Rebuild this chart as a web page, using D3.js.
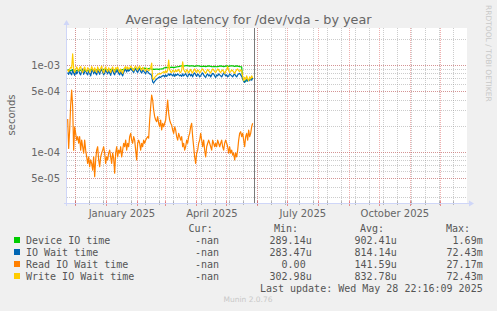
<!DOCTYPE html>
<html>
<head>
<meta charset="utf-8">
<script src="https://cdn.jsdelivr.net/npm/d3@7/dist/d3.min.js"></script>
<style>
  body { margin: 0; background: #f0f0f0; }
  svg text { font-family: "DejaVu Sans", sans-serif; }
  svg .mono { font-family: "DejaVu Sans Mono", monospace; white-space: pre; }
</style>
</head>
<body>
<svg id="chart" width="497" height="311"></svg>
<script>
// series names and colours (munin palette)
const seriesNames = ['Device IO time', 'IO Wait time', 'Read IO Wait time', 'Write IO Wait time'];
const seriesColors = ['#00cc00', '#0066b3', '#ff8000', '#ffcc00'];

// daily averages in microseconds, first day 2024-11-23
const deviceUs = [
  870, 880, 875, 860, 870, 885, 880, 870, 865, 860,
  870, 875, 880, 870, 860, 865, 875, 880, 870, 865,
  860, 870, 875, 880, 885, 875, 870, 865, 870, 880,
  885, 890, 880, 875, 870, 880, 885, 890, 895, 885,
  880, 875, 885, 890, 880, 870, 875, 880, 885, 880,
  875, 870, 865, 875, 880, 885, 890, 895, 900, 905,
  900, 895, 905, 910, 905, 900, 895, 900, 905, 910,
  915, 920, 915, 910, 905, 910, 915, 920, 915, 910,
  905, 910, 915, 905, 900,
  890, 895, 890, 895, 900, 895, 890, 895, 900, 905, 900,
  920, 930, 935, 940, 935, 930, 935, 940, 945, 940, 935, 940, 945, 950, 955, 960, 965,
  975, 980, 975, 970, 975, 980, 985, 980, 975, 970,
  975, 980, 975, 970, 965, 970, 975, 980, 975, 970,
  965, 960, 965, 970, 965, 960, 965, 970, 975, 970,
  965, 960, 955, 960, 965, 960, 955, 960, 965, 970,
  975, 970, 965, 960, 965, 970, 975, 970, 965, 970,
  975, 980, 975, 970, 965, 970, 975, 970, 965, 960,
  955, 950,
  700, 660, 645, 650, 660, 670, 680, 690, 700, 705, 710
];
const ioWaitUs = [
  820, 780, 860, 800, 770, 880, 810, 760, 870, 790,
  830, 880, 800, 770, 860, 900, 780, 830, 880, 800,
  770, 860, 810, 750, 840, 890, 790, 860, 800, 770,
  880, 830, 780, 860, 900, 820, 770, 810, 880, 830,
  790, 860, 810, 760, 840, 890, 800, 770, 860, 830,
  880, 800, 770, 840, 790, 750, 820, 870, 890, 830,
  900, 850, 870, 910, 880, 850, 820, 880, 900, 850,
  820, 880, 900, 840, 810, 870, 850, 820, 790, 860,
  840, 810, 790, 780, 760,
  640, 620, 650, 670, 690, 700, 720, 730, 720, 740, 750,
  760, 730, 770, 740, 760, 790, 760, 790, 770, 750, 790, 740, 780, 760, 790, 770, 750,
  770, 740, 790, 750, 770, 800, 750, 730, 780, 790,
  750, 780, 730, 790, 810, 770, 740, 790, 770, 730,
  750, 790, 810, 770, 740, 720, 770, 790, 750, 770,
  730, 770, 800, 790, 750, 720, 770, 750, 790, 770,
  750, 730, 770, 810, 790, 750, 770, 730, 750, 790,
  770, 750, 730, 770, 790, 750, 730, 770, 790, 800,
  770, 740,
  700, 650, 630, 660, 690, 650, 680, 660, 700, 670, 710
];
const readUs = [
  240, 110, 179, 347, 516, 332, 105, 195, 164, 137,
  150, 126, 150, 105, 137, 115, 97, 137, 105, 88,
  74, 88, 68, 81, 74, 62, 88, 52, 81, 105,
  115, 81, 68, 88, 97, 105, 115, 97, 74, 88,
  81, 97, 105, 88, 74, 97, 85, 57, 97, 115,
  88, 105, 97, 115, 88, 105, 126, 115, 137, 105,
  126, 115, 150, 164, 137, 126, 150, 137, 105, 81,
  126, 137, 126, 105, 126, 115, 137, 126, 137, 144,
  150, 144, 233, 332, 452, 396, 304, 255, 233, 223,
  255, 214, 195, 233, 179, 214, 195, 214, 233, 304,
  396, 278, 233, 214, 204, 179, 164, 195, 179, 150,
  137, 164, 150, 137, 150, 115, 126, 105, 115, 137,
  126, 150, 164, 195, 214, 150, 115, 88, 74, 97,
  105, 126, 137, 164, 137, 115, 137, 105, 88, 115,
  126, 137, 126, 115, 105, 137, 126, 115, 126, 115,
  137, 126, 115, 126, 137, 115, 105, 126, 137, 126,
  115, 97, 115, 97, 105, 92, 97, 81, 97, 88,
  105, 137, 164, 171, 150, 164, 137, 115, 150, 164,
  137, 179, 150, 164, 195, 214
];
const writeUs = [
  880, 840, 900, 940, 920, 1340, 900, 820, 880, 950,
  900, 850, 930, 960, 860, 820, 900, 950, 870, 840,
  930, 900, 820, 870, 960, 900, 840, 930, 870, 820,
  950, 890, 840, 920, 970, 860, 810, 900, 950, 870,
  840, 930, 880, 820, 900, 950, 860, 830, 930, 900,
  950, 870, 820, 900, 850, 800, 880, 930, 960, 890,
  950, 900, 920, 970, 940, 890, 860, 940, 970, 910,
  880, 940, 970, 900, 870, 940, 910, 880, 850, 920,
  890, 860, 880, 930, 1050,
  700, 680, 720, 740, 760, 780, 790, 800, 790, 810, 820,
  840, 810, 860, 820, 870, 1140, 880, 830, 820, 870, 850, 830, 880, 840, 860, 890, 830,
  820, 870, 1090, 890, 840, 820, 880, 860, 810, 850,
  890, 830, 810, 870, 900, 840, 820, 880, 860, 810,
  840, 880, 900, 860, 830, 800, 850, 890, 860, 830,
  810, 860, 900, 880, 840, 820, 860, 900, 880, 840,
  820, 860, 880, 840, 800, 850, 880, 960, 860, 820,
  840, 880, 860, 830, 800, 850, 880, 900, 860, 840,
  880, 860,
  740, 660, 720, 680, 750, 690, 660, 730, 690, 750, 710
];

// legend table
const legendCur = ['-nan', '-nan', '-nan', '-nan'];
const legendMin = ['289.14u', '283.47u', '0.00 ', '302.98u'];
const legendAvg = ['902.41u', '814.14u', '141.59u', '832.78u'];
const legendMax = ['1.69m', '72.43m', '27.17m', '72.43m'];

// axes
const yTickValues = [5e-5, 1e-4, 5e-4, 1e-3];
const yTickLabels = ['5e-05', '1e-04', '5e-04', '1e-03'];
const xLabelMonths = ['2025-01-01', '2025-04-01', '2025-07-01', '2025-10-01'];
const xLabelTexts = ['January 2025', 'April 2025', 'July 2025', 'October 2025'];
const lastUpdate = new Date(Date.UTC(2025, 4, 28, 22, 16, 9));

const svg = d3.select('#chart');
const P = { left: 67, right: 467, top: 28, bottom: 203 };

svg.append('rect').attr('width', 497).attr('height', 311).attr('fill', '#f0f0f0');
svg.append('rect').attr('x', P.left).attr('y', P.top)
  .attr('width', P.right - P.left).attr('height', P.bottom - P.top).attr('fill', '#fff');

const x = d3.scaleUtc()
  .domain([new Date(Date.UTC(2024, 10, 22, 20)), new Date(Date.UTC(2025, 11, 27, 20))])
  .range([P.left, P.right]);
const y = d3.scaleLog().domain([1e-4, 1e-3]).range([152, 65]);

const firstDay = new Date(Date.UTC(2024, 10, 23, 12));
const days = readUs.map((_, i) => d3.utcDay.offset(firstDay, i));

const minorColor = '#8f8f8f', minorOpacity = 0.45;
const majorColor = '#de4f4f', majorOpacity = 0.45;

// horizontal grid (log minor + labelled major)
const minorY = [];
for (let e = -6; e <= -2; e++) for (let k = 1; k <= 9; k++) minorY.push(k * Math.pow(10, e));
const inY = v => y(v) >= P.top - 0.5 && y(v) <= P.bottom;
svg.append('g').selectAll('line').data(minorY.filter(inY)).join('line')
  .attr('x1', P.left).attr('x2', P.right)
  .attr('y1', d => Math.round(y(d)) + 0.5).attr('y2', d => Math.round(y(d)) + 0.5)
  .attr('stroke', minorColor).attr('stroke-opacity', minorOpacity).attr('stroke-dasharray', '1,1');

// vertical grid: every 2 weeks (minor) and each month (major)
const minorX = d3.utcWeek.range(new Date(Date.UTC(2024, 11, 1)), x.domain()[1], 2);
svg.append('g').selectAll('line').data(minorX).join('line')
  .attr('x1', d => Math.round(x(d)) + 0.5).attr('x2', d => Math.round(x(d)) + 0.5)
  .attr('y1', P.top).attr('y2', P.bottom)
  .attr('stroke', minorColor).attr('stroke-opacity', minorOpacity).attr('stroke-dasharray', '1,1');

const months = d3.utcMonth.range(x.domain()[0], x.domain()[1]);
svg.append('g').selectAll('line').data(months).join('line')
  .attr('x1', d => Math.round(x(d)) + 0.5).attr('x2', d => Math.round(x(d)) + 0.5)
  .attr('y1', P.top).attr('y2', P.bottom)
  .attr('stroke', majorColor).attr('stroke-opacity', majorOpacity).attr('stroke-dasharray', '1,1');

svg.append('g').selectAll('line').data(yTickValues).join('line')
  .attr('x1', P.left).attr('x2', P.right)
  .attr('y1', d => Math.round(y(d)) + 0.5).attr('y2', d => Math.round(y(d)) + 0.5)
  .attr('stroke', majorColor).attr('stroke-opacity', majorOpacity).attr('stroke-dasharray', '1,1');

// x ticks on the axis
svg.append('g').selectAll('line').data(minorX).join('line')
  .attr('x1', d => Math.round(x(d)) + 0.5).attr('x2', d => Math.round(x(d)) + 0.5)
  .attr('y1', P.bottom - 2).attr('y2', P.bottom + 2)
  .attr('stroke', minorColor).attr('stroke-opacity', 0.6);
svg.append('g').selectAll('line').data(months).join('line')
  .attr('x1', d => Math.round(x(d)) + 0.5).attr('x2', d => Math.round(x(d)) + 0.5)
  .attr('y1', P.bottom - 2).attr('y2', P.bottom + 3)
  .attr('stroke', majorColor).attr('stroke-opacity', 0.6);

// data lines
svg.append('clipPath').attr('id', 'plot').append('rect')
  .attr('x', P.left).attr('y', P.top).attr('width', P.right - P.left).attr('height', P.bottom - P.top);
const lineGen = d3.line().x((d, i) => x(days[i])).y(d => y(d / 1e6));
const allSeries = [deviceUs, ioWaitUs, readUs, writeUs];
svg.append('g').attr('clip-path', 'url(#plot)')
  .selectAll('path').data(allSeries).join('path')
  .attr('d', lineGen)
  .attr('fill', 'none')
  .attr('stroke', (d, i) => seriesColors[i])
  .attr('stroke-width', 1.2)
  .attr('stroke-linejoin', 'round');

// "now" rule at last update
svg.append('line')
  .attr('x1', Math.round(x(lastUpdate)) + 0.5).attr('x2', Math.round(x(lastUpdate)) + 0.5)
  .attr('y1', P.top).attr('y2', P.bottom)
  .attr('stroke', '#7a7a7a').attr('stroke-width', 1);

// axes with arrows
const axisColor = '#cfd6f8';
svg.append('line').attr('x1', P.left - 0.5).attr('x2', P.left - 0.5)
  .attr('y1', P.bottom + 3).attr('y2', P.top - 5).attr('stroke', axisColor);
svg.append('path').attr('d', `M${P.left - 3.5},${P.top - 3}L${P.left - 0.5},${P.top - 8}L${P.left + 2.5},${P.top - 3}Z`)
  .attr('fill', axisColor);
svg.append('line').attr('x1', P.left - 3).attr('x2', P.right + 3)
  .attr('y1', P.bottom + 0.5).attr('y2', P.bottom + 0.5).attr('stroke', axisColor);
svg.append('path').attr('d', `M${P.right + 2},${P.bottom - 2.5}L${P.right + 7},${P.bottom + 0.5}L${P.right + 2},${P.bottom + 3.5}Z`)
  .attr('fill', axisColor);

// y tick labels
svg.append('g').selectAll('text').data(yTickValues).join('text')
  .attr('x', 60).attr('y', d => y(d) + 3.5)
  .attr('text-anchor', 'end').attr('font-size', 10).attr('fill', '#666')
  .text((d, i) => yTickLabels[i]);

// x labels, centred in their month
svg.append('g').selectAll('text').data(xLabelMonths).join('text')
  .attr('x', d => x(d3.utcHour.offset(new Date(d + 'T00:00:00Z'), 378)))
  .attr('y', 216.5)
  .attr('text-anchor', 'middle').attr('font-size', 10).attr('fill', '#666')
  .text((d, i) => xLabelTexts[i]);

// y title
svg.append('text').attr('transform', 'translate(14.5,115) rotate(-90)')
  .attr('text-anchor', 'middle').attr('font-size', 10).attr('fill', '#666')
  .text('seconds');

// title
svg.append('text').attr('x', 248.5).attr('y', 24)
  .attr('text-anchor', 'middle').attr('font-size', 12.8).attr('fill', '#666')
  .text('Average latency for /dev/vda - by year');

// watermark
svg.append('text').attr('transform', 'translate(486,5) rotate(90)')
  .attr('font-size', 7.5).attr('fill', '#c8c8c8')
  .text('RRDTOOL / TOBI OETIKER');

// legend
const leg = svg.append('g').attr('class', 'legend');
const headers = [['Cur:', 212.7], ['Min:', 298], ['Avg:', 384], ['Max:', 470]];
leg.selectAll('.hdr').data(headers).join('text')
  .attr('class', 'mono hdr').attr('x', d => d[1]).attr('y', 231.5)
  .attr('text-anchor', 'end').attr('font-size', 10).attr('fill', '#555')
  .text(d => d[0]);

const rowY = i => 243.5 + i * 12;
seriesNames.forEach((name, i) => {
  leg.append('rect').attr('x', 14).attr('y', rowY(i) - 6.5).attr('width', 6).attr('height', 6)
    .attr('fill', seriesColors[i]);
  leg.append('text').attr('class', 'mono').attr('x', 26).attr('y', rowY(i))
    .attr('font-size', 10).attr('fill', '#555').text(name);
  [[legendCur[i], 219], [legendMin[i], 311.7], [legendAvg[i], 396.7], [legendMax[i], 482.7]]
    .forEach(([t, xr]) => {
      leg.append('text').attr('class', 'mono').attr('x', xr).attr('y', rowY(i))
        .attr('text-anchor', 'end').attr('font-size', 10).attr('fill', '#555').text(t);
    });
});

leg.append('text').attr('class', 'mono').attr('x', 482.7).attr('y', rowY(4))
  .attr('text-anchor', 'end').attr('font-size', 10).attr('fill', '#555')
  .text('Last update: ' + d3.utcFormat('%a %b %d %H:%M:%S %Y')(lastUpdate));

svg.append('text').attr('x', 248).attr('y', 301.5)
  .attr('text-anchor', 'middle').attr('font-size', 7.5).attr('fill', '#c8c8c8')
  .text('Munin 2.0.76');
</script>
</body>
</html>
